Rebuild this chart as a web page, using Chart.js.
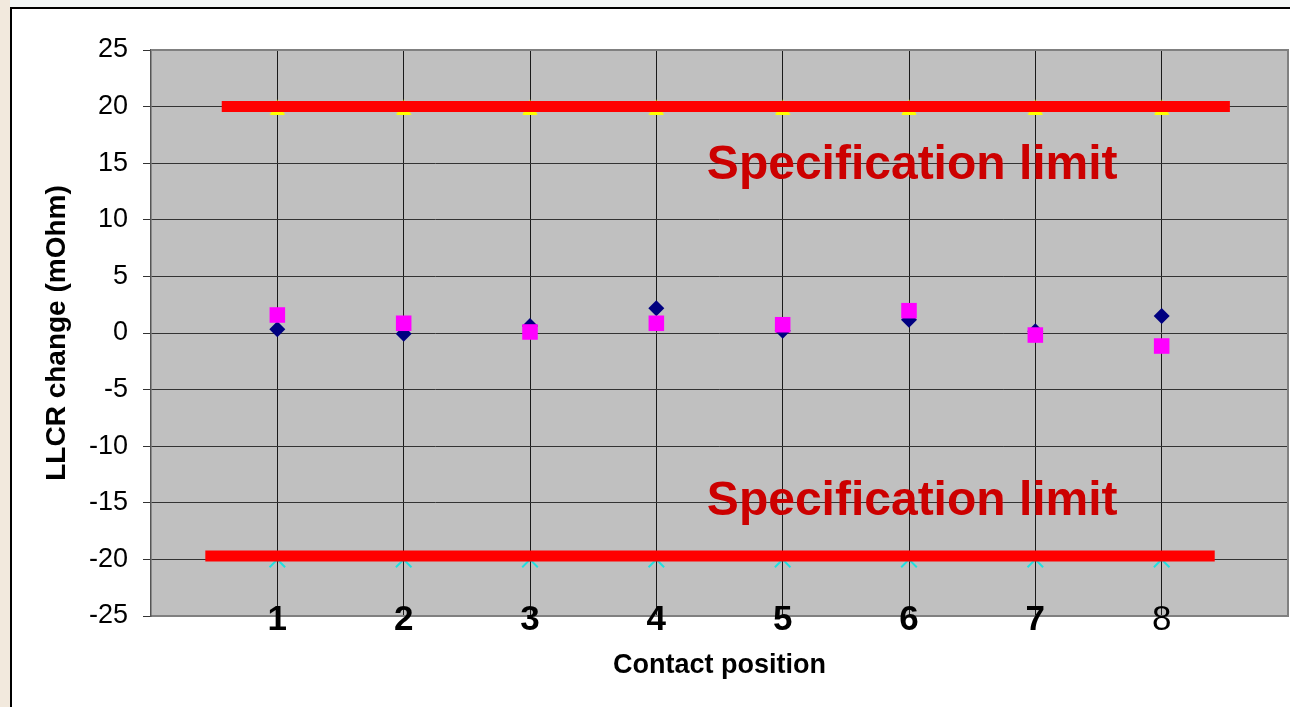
<!DOCTYPE html>
<html>
<head>
<meta charset="utf-8">
<title>LLCR change by contact position</title>
<script src="https://cdn.jsdelivr.net/npm/chart.js@4.4.1/dist/chart.umd.min.js"></script>
<style>
  html, body { margin: 0; padding: 0; background: #f2e9dd; }
  #wrap { position: absolute; left: 0; top: 0; width: 1290px; height: 707px; }
</style>
</head>
<body>
<div id="wrap"><canvas id="chart" width="1290" height="707"></canvas></div>
<script>
// Contact positions along the connector
const positions = [1, 2, 3, 4, 5, 6, 7, 8];
const positionLabels = ['1', '2', '3', '4', '5', '6', '7', '8'];

// LLCR change per contact (mOhm)
const seriesDiamond = [0.33, -0.06, 0.62, 2.18, 0.20, 1.17, 0.15, 1.50];
const seriesSquare  = [1.59, 0.86, 0.09, 0.86, 0.73, 1.97, -0.18, -1.15];

// Limit markers at each position
const upperMarks = [20, 20, 20, 20, 20, 20, 20, 20];
const lowerMarks = [-20, -20, -20, -20, -20, -20, -20, -20];

// Specification limit bars (start / end along the position axis)
const upperLimitX = [0.56, 8.54];
const upperLimitY = [20, 20];
const lowerLimitX = [0.43, 8.42];
const lowerLimitY = [-19.7, -19.7];

const yTickValues = [-25, -20, -15, -10, -5, 0, 5, 10, 15, 20, 25];

const FONT = "'Liberation Sans', Arial, Helvetica, sans-serif";

const toPoints = (xs, ys) => xs.map((x, i) => ({ x: x, y: ys[i] }));

// Yellow triangle marker
function makeTriangle() {
  const c = document.createElement('canvas');
  c.width = 16; c.height = 16;
  const g = c.getContext('2d');
  g.fillStyle = '#ffff00';
  g.beginPath();
  g.moveTo(8, 1);
  g.lineTo(15.5, 16);
  g.lineTo(0.5, 16);
  g.closePath();
  g.fill();
  return c;
}

// Page frame, plot background and plot border
const framePlugin = {
  id: 'frame',
  beforeDraw(chart) {
    const ctx = chart.ctx;
    const W = chart.width, H = chart.height;
    ctx.save();
    ctx.fillStyle = '#f2e9dd';
    ctx.fillRect(0, 0, W, H);
    ctx.fillStyle = '#f3f6f5';
    ctx.fillRect(10, 0, W - 10, 8);
    ctx.fillStyle = '#ffffff';
    ctx.fillRect(10, 8, W - 10, H - 8);
    ctx.strokeStyle = '#000000';
    ctx.lineWidth = 2;
    ctx.beginPath();
    ctx.moveTo(11, H);
    ctx.lineTo(11, 8);
    ctx.lineTo(W, 8);
    ctx.stroke();
    const a = chart.chartArea;
    ctx.fillStyle = '#c0c0c0';
    ctx.fillRect(a.left, a.top, a.right - a.left, a.bottom - a.top);
    ctx.restore();
  },
  beforeDatasetsDraw(chart) {
    const ctx = chart.ctx;
    const a = chart.chartArea;
    ctx.save();
    ctx.strokeStyle = '#808080';
    ctx.lineWidth = 2;
    ctx.beginPath();
    ctx.moveTo(a.left, a.top);
    ctx.lineTo(a.right, a.top);
    ctx.lineTo(a.right, a.bottom);
    ctx.stroke();
    ctx.restore();
  }
};

// Text labels placed in data coordinates
const notePlugin = {
  id: 'notes',
  afterDatasetsDraw(chart, args, opts) {
    const ctx = chart.ctx;
    const xs = chart.scales.x, ys = chart.scales.y;
    ctx.save();
    ctx.font = opts.font;
    ctx.fillStyle = opts.color;
    ctx.textAlign = 'left';
    ctx.textBaseline = 'middle';
    opts.items.forEach(it => {
      ctx.fillText(it.text, xs.getPixelForValue(it.x), ys.getPixelForValue(it.y));
    });
    ctx.restore();
  }
};

const chart = new Chart(document.getElementById('chart'), {
  type: 'scatter',
  data: {
    datasets: [
      {
        label: 'Upper specification limit',
        type: 'line',
        data: toPoints(upperLimitX, upperLimitY),
        borderColor: '#ff0000',
        borderWidth: 11,
        borderCapStyle: 'butt',
        pointRadius: 0,
        showLine: true,
        fill: false,
        order: 0
      },
      {
        label: 'Lower specification limit',
        type: 'line',
        data: toPoints(lowerLimitX, lowerLimitY),
        borderColor: '#ff0000',
        borderWidth: 11,
        borderCapStyle: 'butt',
        pointRadius: 0,
        showLine: true,
        fill: false,
        order: 0
      },
      {
        label: 'Series 2',
        data: toPoints(positions, seriesSquare),
        pointStyle: 'rect',
        pointRadius: 11,
        backgroundColor: '#ff00ff',
        borderWidth: 0,
        order: 1
      },
      {
        label: 'Series 1',
        data: toPoints(positions, seriesDiamond),
        pointStyle: 'rectRot',
        pointRadius: 8,
        backgroundColor: '#000080',
        borderWidth: 0,
        order: 2
      },
      {
        label: 'Upper',
        data: toPoints(positions, upperMarks),
        pointStyle: makeTriangle(),
        pointRadius: 8,
        order: 3
      },
      {
        label: 'Lower',
        data: toPoints(positions, lowerMarks),
        pointStyle: 'crossRot',
        pointRadius: 11,
        borderColor: '#20e0e0',
        borderWidth: 2,
        order: 3
      }
    ]
  },
  options: {
    responsive: false,
    animation: false,
    events: [],
    layout: { autoPadding: false, padding: { left: 10, top: 50, right: 2, bottom: 0 } },
    plugins: {
      legend: { display: false },
      tooltip: { enabled: false },
      notes: {
        font: 'bold 48px ' + FONT,
        color: '#cc0000',
        items: [
          { text: 'Specification limit', x: 4.40, y: 14.8 },
          { text: 'Specification limit', x: 4.40, y: -14.9 }
        ]
      }
    },
    scales: {
      x: {
        type: 'linear',
        min: 0,
        max: 9,
        afterBuildTicks(scale) {
          scale.ticks = positions.map(v => ({ value: v }));
        },
        afterFit(scale) {
          scale.height = 91;
          scale.paddingLeft = 0;
          scale.paddingRight = 0;
        },
        grid: { color: '#1a1a1a', lineWidth: 1, drawTicks: false },
        border: { display: true, color: '#808080', width: 2 },
        ticks: {
          mirror: true,
          padding: -25,
          color: '#000000',
          font: (ctx) => ({
            family: FONT,
            size: 35,
            weight: (ctx.tick && ctx.tick.value === 8) ? 'normal' : 'bold'
          }),
          callback: (v) => positionLabels[positions.indexOf(v)] ?? ''
        },
        title: {
          display: true,
          text: 'Contact position',
          color: '#000000',
          font: { family: FONT, size: 27, weight: 'bold' },
          padding: { top: 0, bottom: 25 }
        }
      },
      y: {
        min: -25,
        max: 25,
        afterBuildTicks(scale) {
          scale.ticks = yTickValues.map(v => ({ value: v }));
        },
        afterFit(scale) {
          scale.width = 141;
          scale.paddingLeft = 0;
          scale.paddingRight = 0;
        },
        grid: { color: '#333333', lineWidth: 1, drawTicks: true, tickLength: 8, tickColor: '#333333' },
        border: { display: true, color: '#555555', width: 1.5 },
        ticks: {
          padding: 15,
          color: '#000000',
          font: { family: FONT, size: 27 }
        },
        title: {
          display: true,
          text: 'LLCR change (mOhm)',
          color: '#000000',
          font: { family: FONT, size: 28, weight: 'bold' },
          padding: { top: 30, bottom: 0 }
        }
      }
    }
  },
  plugins: [framePlugin, notePlugin]
});
</script>
</body>
</html>
